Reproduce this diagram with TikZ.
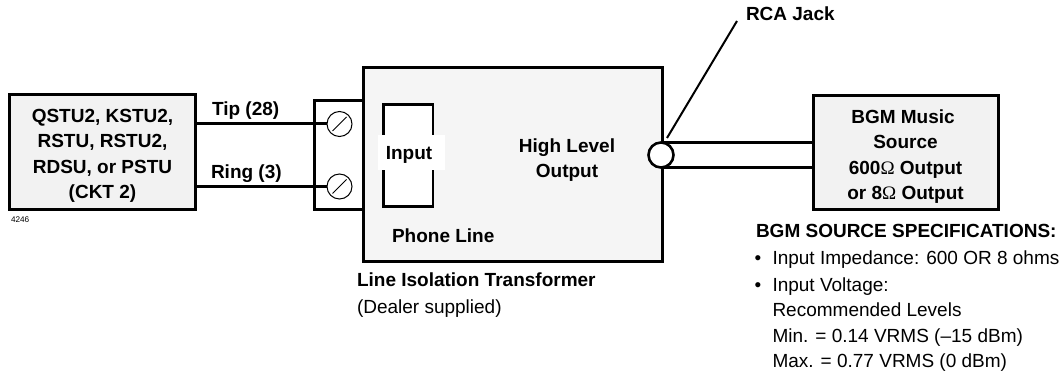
\documentclass[tikz,border=0pt]{standalone}
\usepackage{fontspec}
\setmainfont{Liberation Sans}
\newfontfamily\omegafont{Liberation Serif}
\newcommand{\ohm}{{\omegafont\mdseries Ω}}
\tikzset{
  x=1pt,y=-1pt,
  every node/.style={outer sep=0pt},
  wire/.style={line width=3pt,black},
  wirer/.style={line width=2.7pt,black},
  boxa/.style={draw=black,line width=3pt,fill=#1,inner sep=0pt,align=center,anchor=north west,font=\fontsize{19}{25.5}\selectfont\bfseries},
  lbl/.style={inner sep=0pt,font=\fontsize{19}{25.5}\selectfont\bfseries,align=center},
  spec/.style={inner sep=0pt,anchor=west,font=\fontsize{19}{25}\selectfont},
  screw/.style={circle,draw=black,line width=1pt,fill=white,minimum size=25pt,inner sep=0pt},
  jack/.style={circle,draw=black,line width=2.6pt,fill=white,minimum size=25pt,inner sep=0pt}
}
\begin{document}
\begin{tikzpicture}
\useasboundingbox (0,0) rectangle (1063,374);
% boxes
\node[boxa=white,minimum width=48.5pt,minimum height=109pt] (term) at (314.5,101) {};
\node[boxa=gray!8,minimum width=299.5pt,minimum height=193pt] (xfmr) at (363,68) {};
\node[boxa=gray!10,minimum width=186pt,minimum height=115pt] (qstu) at (9.5,94.5) {\rule{0pt}{21pt}QSTU2, KSTU2,\\RSTU, RSTU2,\\RDSU, or PSTU\hspace*{5pt}\\(CKT 2)};
\node[boxa=gray!10,minimum width=185pt,minimum height=114.5pt] (bgm) at (813,95.5) {\rule{0pt}{21pt}BGM Music\hspace*{5pt}\\Source\\600\ohm{} Output\hspace*{5pt}\\or 8\ohm{} Output};
\node[draw=black,line width=2.4pt,fill=white,minimum width=49.5pt,minimum height=102pt,inner sep=0pt,anchor=north west] (inbox) at (383.5,104.5) {};
\node[lbl,fill=white,minimum width=67pt,minimum height=35pt] (input) at (411.5,152.5) {\rule{0pt}{17pt}Input\hspace*{5pt}};
% screws and jack
\node[screw] (s1) at (339.5,124) {};
\node[screw] (s2) at (339.5,186.5) {};
\draw[line width=1pt] (s1.center)+(-7,7)--+(7,-7);
\draw[line width=1pt] (s2.center)+(-7,7)--+(7,-7);
\coordinate (up) at (661,142.7);
\coordinate (lo) at (661,167.7);
\draw[wirer] (up) -- (up -| bgm.west);
\draw[wirer] (lo) -- (lo -| bgm.west);
\node[jack] (j) at (661,155) {};
% wires
\draw[wire] (qstu.east |- s1) -- (s1.west);
\draw[wire] (qstu.east |- s2) -- (s2.west);
\coordinate (rcafoot) at (667,138);
\coordinate (rca) at (737,21);
\draw[line width=2pt] (rcafoot) -- (rca);
% labels
\node[lbl,anchor=base west] (tip) at (212,116) {Tip (28)};
\node[lbl,anchor=base west] (ring) at (211,179) {Ring (3)};
\node[lbl] (hl) at (567,160) {High Level\\Output};
\node[lbl,anchor=base west] (pl) at (392,243) {Phone Line};
\node[lbl,anchor=base west] (rj) at (746,21) {RCA Jack};
\node[lbl,anchor=base west] (lit) at (357,287) {Line Isolation Transformer};
\node[spec,anchor=base west] (ds) at (357,313) {(Dealer supplied)};
\node[inner sep=0pt,anchor=base west,font=\fontsize{8.2}{9}\selectfont] (num) at (11,223) {4246};
\node[lbl,anchor=base west] (sh) at (756,238) {BGM SOURCE SPECIFICATIONS:};
\node[spec,anchor=base west] (b1) at (754.5,265) {•};
\node[spec,anchor=base west] (t1) at (772.5,265) {Input Impedance: 600 OR 8 ohms};
\node[spec,anchor=base west] (b2) at (754.5,291) {•};
\node[spec,anchor=base west] (t2) at (772.5,291) {Input Voltage:};
\node[spec,anchor=base west] (t3) at (772.5,316) {Recommended Levels};
\node[spec,anchor=base west] (t4) at (772.5,342) {Min. = 0.14 VRMS (–15 dBm)};
\node[spec,anchor=base west] (t5) at (772.5,367) {Max. = 0.77 VRMS (0 dBm)};
\end{tikzpicture}
\end{document}
